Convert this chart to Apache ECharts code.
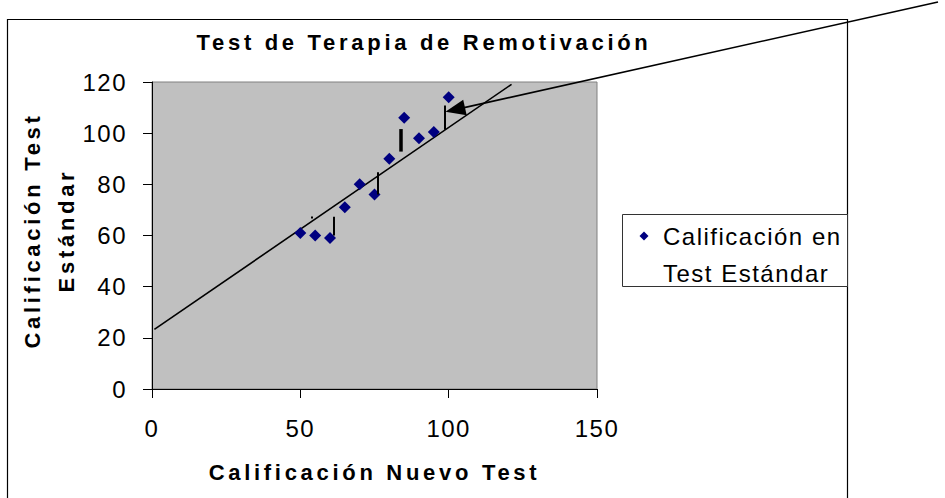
<!DOCTYPE html>
<html>
<head>
<meta charset="utf-8">
<script src="https://cdn.jsdelivr.net/npm/echarts@6/dist/echarts.min.js"></script>
<style>
  html, body { margin: 0; padding: 0; background: #fff; }
  #chart { width: 945px; height: 498px; }
  /* Excel-style spaced lettering */
  #chart svg text { letter-spacing: 1.5px; }
  #chart svg text[style*="bold"] { letter-spacing: 3.7px; }
</style>
</head>
<body>
<div id="chart"></div>
<script>
const newTest = [50, 55, 60, 65, 70, 75, 80, 85, 90, 95, 100]
const standardTest = [61, 60, 59, 71, 80, 76, 90, 106, 98, 100.5, 114]

// recta dibujada a mano sobre el gráfico
const trendLine = [[0.8, 23.3], [121.2, 119.1]]

// residuos: [x, desde, hasta, grosor]
const residuals = [
  [53.8, 66.6, 67.4, 2],
  [61.1, 60, 67.3, 2],
  [76.1, 76, 84.7, 2],
  [83.9, 92.8, 101.6, 3.5],
  [98.8, 101.3, 110.8, 2],
]
const arrowHead = [102.2, 109.2]

const xTickLabels = [0, 50, 100, 150]
const yTickLabels = [0, 20, 40, 60, 80, 100, 120]

const FONT = 'Arial, "Liberation Sans", sans-serif'
const seriesName = 'Calificación en Test Estándar'

const chart = echarts.init(document.getElementById('chart'), null, { renderer: 'svg' })

chart.setOption({
  animation: false,
  backgroundColor: '#ffffff',
  textStyle: { fontFamily: FONT },
  title: {
    text: 'Test de Terapia de Remotivación',
    left: 424,
    top: 31,
    padding: 0,
    textAlign: 'center',
    textStyle: { fontFamily: FONT, fontSize: 22, fontWeight: 'bold', color: '#000' },
  },
  graphic: [
    {
      type: 'rect',
      z: -1,
      shape: { x: 7.5, y: 19.5, width: 840, height: 500 },
      style: { fill: 'none', stroke: '#000', lineWidth: 1.2 },
    },
    {
      type: 'rect',
      z: 1,
      shape: { x: 622.5, y: 214.5, width: 225, height: 72 },
      style: { fill: '#fff', stroke: '#333', lineWidth: 1 },
    },
  ],
  legend: {
    data: [seriesName],
    left: 639.5,
    top: 180.5,
    padding: 0,
    icon: 'diamond',
    itemWidth: 9,
    itemHeight: 9,
    formatter: () => '\nCalificación en\nTest Estándar',
    textStyle: { fontFamily: FONT, fontSize: 24, lineHeight: 37, color: '#000', padding: [0, 0, 0, 9.5] },
  },
  grid: {
    left: 152,
    right: 348,
    top: 82,
    bottom: 109,
    show: true,
    backgroundColor: '#c0c0c0',
    borderColor: '#808080',
    borderWidth: 1,
  },
  xAxis: {
    type: 'value',
    min: xTickLabels[0],
    max: xTickLabels[xTickLabels.length - 1],
    interval: xTickLabels[1] - xTickLabels[0],
    name: 'Calificación Nuevo Test',
    nameLocation: 'middle',
    nameGap: 72,
    nameTextStyle: { fontFamily: FONT, fontSize: 22, fontWeight: 'bold', color: '#000' },
    axisLine: { show: true, onZero: false, lineStyle: { color: '#000', width: 1 } },
    axisTick: { show: true, length: 9, lineStyle: { color: '#000' } },
    axisLabel: { fontFamily: FONT, fontSize: 24, color: '#000', margin: 27 },
    splitLine: { show: false },
  },
  yAxis: {
    type: 'value',
    min: yTickLabels[0],
    max: yTickLabels[yTickLabels.length - 1],
    interval: yTickLabels[1] - yTickLabels[0],
    name: 'Calificación Test\nEstándar',
    nameLocation: 'middle',
    nameGap: 68,
    nameTextStyle: {
      fontFamily: FONT, fontSize: 22, fontWeight: 'bold', color: '#000', lineHeight: 34,
      padding: [0, 0, 0, 10],
    },
    axisLine: { show: true, onZero: false, lineStyle: { color: '#000', width: 1 } },
    axisTick: { show: true, length: 9, lineStyle: { color: '#000' } },
    axisLabel: { fontFamily: FONT, fontSize: 24, color: '#000', margin: 25 },
    splitLine: { show: false },
  },
  series: [
    {
      name: 'recta',
      type: 'line',
      data: trendLine,
      showSymbol: false,
      silent: true,
      lineStyle: { color: '#000', width: 1.6 },
      z: 3,
    },
    {
      name: seriesName,
      type: 'scatter',
      data: newTest.map((x, i) => [x, standardTest[i]]),
      symbol: 'diamond',
      symbolSize: 12,
      itemStyle: { color: '#000080', opacity: 1 },
      clip: false,
      z: 4,
      markLine: {
        silent: true,
        symbol: ['none', 'none'],
        label: { show: false },
        lineStyle: { color: '#000', type: 'solid', width: 2 },
        data: [
          ...residuals.map(([x, y0, y1, w]) => [
            { coord: [x, y0], lineStyle: { width: w, color: '#000', type: 'solid' } },
            { coord: [x, y1] },
          ]),
          [
            { x: 938, y: 2, symbol: 'none', lineStyle: { width: 1.6, color: '#000', type: 'solid' } },
            { coord: arrowHead, symbol: 'triangle', symbolSize: [16, 20] },
          ],
        ],
      },
    },
  ],
})
</script>
</body>
</html>
